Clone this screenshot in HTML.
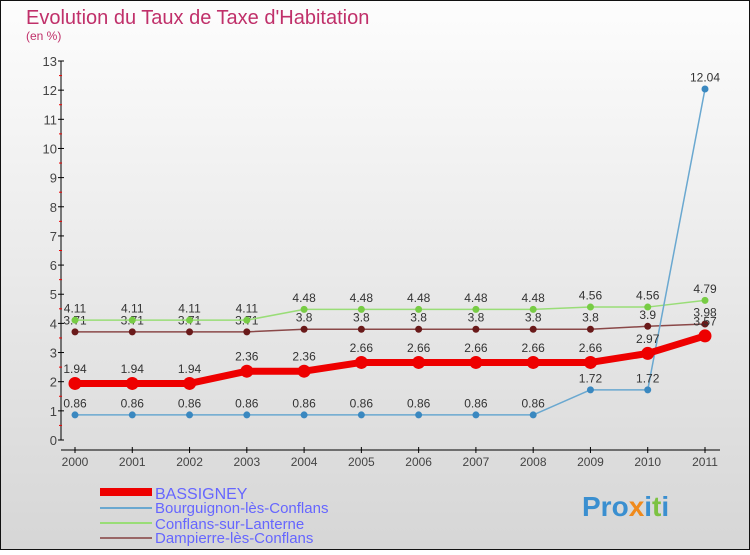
<!DOCTYPE html>
<html><head><meta charset="utf-8"><style>
body{margin:0;}
svg text{font-family:"Liberation Sans",sans-serif;}
</style></head><body>
<svg id="c" width="750" height="550" xmlns="http://www.w3.org/2000/svg">
<defs><linearGradient id="bg" x1="0" y1="0" x2="0" y2="1"><stop offset="0" stop-color="#fdfdfd"/><stop offset="1" stop-color="#d6d6d6"/></linearGradient></defs>
<rect x="0.5" y="0.5" width="749" height="549" fill="url(#bg)" stroke="#111"/>
<text x="26" y="24" font-size="20" fill="#c0306a">Evolution du Taux de Taxe d'Habitation</text>
<text x="26" y="40" font-size="12" fill="#c0306a">(en %)</text>
<g id="axes"></g><g id="series"></g>
<g>
<rect x="100" y="488" width="52" height="8" fill="#ee0000"/>
<text x="155" y="499" font-size="16" fill="#6666ff">BASSIGNEY</text>
<line x1="100" y1="508" x2="152" y2="508" stroke="#6aa8d0" stroke-width="2"/>
<text x="155" y="513" font-size="15" fill="#6666ff">Bourguignon-lès-Conflans</text>
<line x1="100" y1="523" x2="152" y2="523" stroke="#99dd77" stroke-width="2"/>
<text x="155" y="529" font-size="15" fill="#6666ff">Conflans-sur-Lanterne</text>
<line x1="100" y1="538" x2="152" y2="538" stroke="#996666" stroke-width="2"/>
<text x="155" y="543" font-size="15" fill="#6666ff">Dampierre-lès-Conflans</text>
</g>
<g><text x="582" y="516" font-size="28" font-weight="bold" fill="#3a8fd0">Pro<tspan fill="#f08a1c">x</tspan>i<tspan fill="#7cc242">t</tspan>i</text></g>
</svg>
<script>
const years=[2000,2001,2002,2003,2004,2005,2006,2007,2008,2009,2010,2011];
const bassigney=[1.94,1.94,1.94,2.36,2.36,2.66,2.66,2.66,2.66,2.66,2.97,3.57];
const bourguignon=[0.86,0.86,0.86,0.86,0.86,0.86,0.86,0.86,0.86,1.72,1.72,12.04];
const conflans=[4.11,4.11,4.11,4.11,4.48,4.48,4.48,4.48,4.48,4.56,4.56,4.79];
const dampierre=[3.71,3.71,3.71,3.71,3.8,3.8,3.8,3.8,3.8,3.8,3.9,3.98];
const yTicks=[0,1,2,3,4,5,6,7,8,9,10,11,12,13];
const NS="http://www.w3.org/2000/svg";
const X=i=>75+i*(630/(years.length-1));
const Y=v=>440-v*(379/13);
function mk(tag,attrs,parent){const e=document.createElementNS(NS,tag);for(const k in attrs)e.setAttribute(k,attrs[k]);parent.appendChild(e);return e;}
const ax=document.getElementById('axes');
let l=mk('line',{x1:61,y1:Y(13),x2:61,y2:Y(0),stroke:'#000'},ax);


yTicks.forEach(t=>{
 const tk=mk('line',{x1:58,x2:64,y1:Y(t),y2:Y(t),stroke:'#000'},ax);
 
 
 if(t<13){const h=mk('line',{x1:59,x2:62,y1:Y(t+0.5),y2:Y(t+0.5),stroke:'#e00'},ax);
 
 }
 const tx=mk('text',{x:57,y:Y(t)+5,'text-anchor':'end','font-size':13,fill:'#444'},ax);tx.textContent=t;
 
 
});
l=mk('line',{x1:61,y1:450,x2:720,y2:450,stroke:'#000'},ax);


years.forEach((yr,i)=>{
 const tk=mk('line',{x1:X(i),x2:X(i),y1:447,y2:453,stroke:'#000'},ax);
 
 
 const tx=mk('text',{x:X(i),y:466,'text-anchor':'middle','font-size':12,fill:'#444'},ax);tx.textContent=yr;
 
 
});
const sg=document.getElementById('series');
function series(data,name,color,w,r,dot){
 const g=mk('g',{},sg);
 
 
 const pl=mk('polyline',{points:data.map((v,i)=>X(i)+','+Y(v)).join(' '),fill:'none',stroke:color,'stroke-width':w,'stroke-linejoin':'round'},g);
 
 
 data.forEach((v,i)=>{
  const c=mk('circle',{cx:X(i),cy:Y(v),r:r,fill:dot},g);
  
  
  const t=mk('text',{x:X(i),y:Y(v)-(r+4),'text-anchor':'middle','font-size':12,fill:'#333'},g);t.textContent=String(v);
  
  
 });
}
series(dampierre,'dampierre','#8a4848',1.5,3.5,'#6a1a1a');
series(conflans,'conflans','#99dd77',1.5,3.5,'#77cc44');
series(bourguignon,'bourguignon','#6aa8d0',1.5,3.5,'#3a88c0');
series(bassigney,'bassigney','#ee0000',7,6.5,'#ee0000');
</script>
</body></html>
